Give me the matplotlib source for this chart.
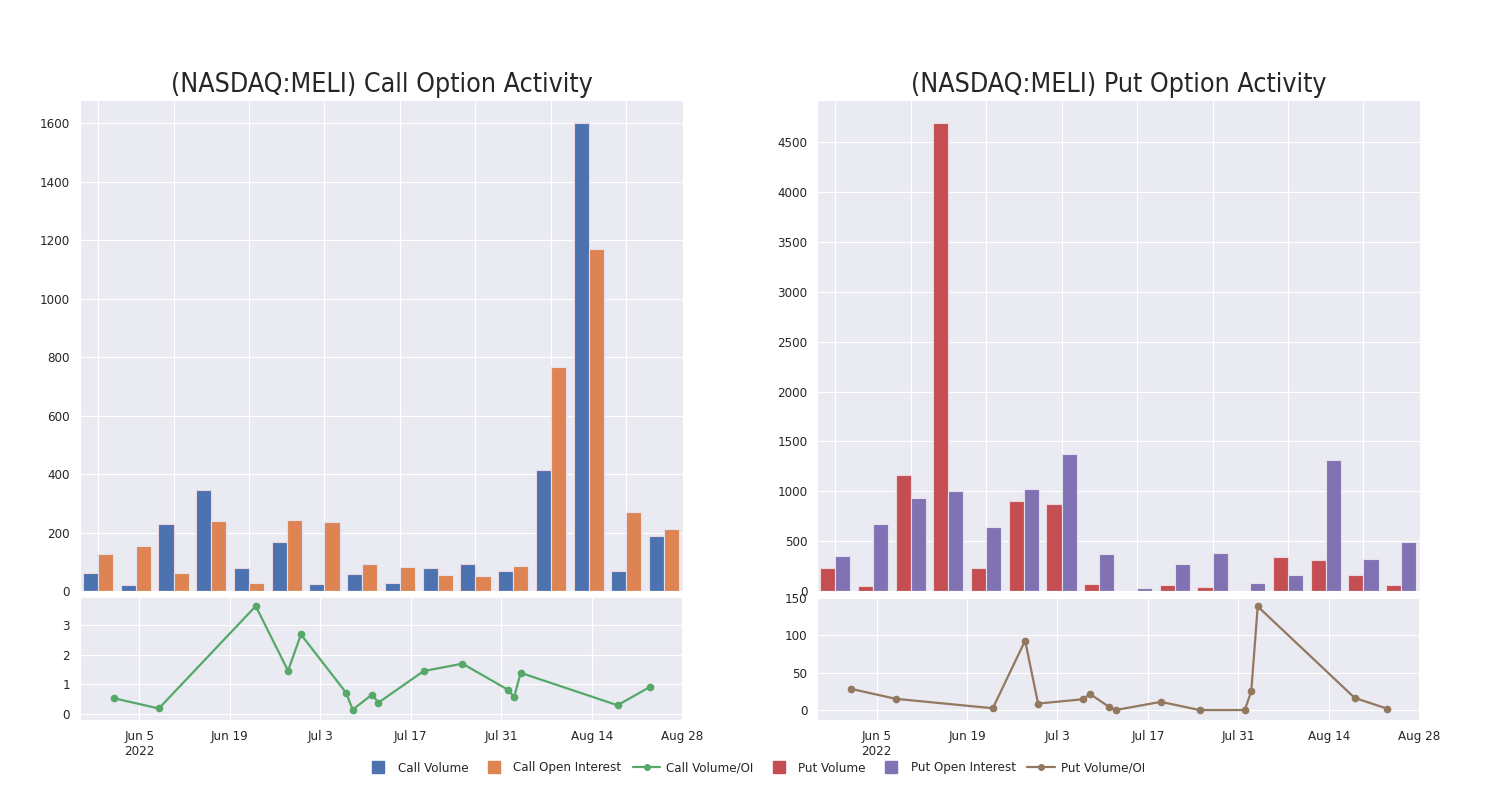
import datetime as dt
import matplotlib
matplotlib.use('Agg')
import matplotlib.pyplot as plt
from matplotlib.lines import Line2D
from matplotlib.ticker import MultipleLocator
import seaborn as sns

sns.set_style('darkgrid')
plt.rcParams['font.family'] = ['DejaVu Sans']
plt.rcParams['font.stretch'] = 'condensed'

# data
dates = [dt.datetime(2022, m, d) for m, d in [
    (6, 1), (6, 8), (6, 23), (6, 28), (6, 30), (7, 7), (7, 8), (7, 11),
    (7, 12), (7, 19), (7, 25), (8, 1), (8, 2), (8, 3), (8, 18), (8, 23)]]

call_volume = [62, 22, 228, 347, 80, 168, 25, 57, 28, 80, 93, 68, 413, 1600, 70, 188]
call_oi = [125, 155, 60, 241, 28, 244, 237, 92, 83, 55, 53, 86, 765, 1170, 270, 211]
call_ratio = [0.52, 0.17, 3.64, 1.45, 2.68, 0.70, 0.13, 0.64, 0.37, 1.44, 1.69, 0.81, 0.56, 1.38, 0.28, 0.90]

put_volume = [235, 54, 1164, 4690, 228, 906, 876, 74, 3, 64, 37, 3, 336, 309, 164, 64]
put_oi = [356, 674, 930, 1007, 638, 1020, 1372, 372, 30, 275, 383, 84, 161, 1309, 319, 490]
put_ratio = [28.6, 15.2, 2.7, 92.9, 8.9, 14.7, 21.9, 4.5, 0.3, 11.2, 0.3, 0.3, 25.4, 138.4, 16.5, 2.2]

tick_dates = [dt.datetime(2022, 6, 5) + dt.timedelta(days=14 * i) for i in range(7)]
tick_labels = ['Jun 5\n2022', 'Jun 19', 'Jul 3', 'Jul 17', 'Jul 31', 'Aug 14', 'Aug 28']

blue, orange, green, red, purple, brown = sns.color_palette('deep')[:6]

fig = plt.figure(figsize=(15, 8), dpi=100)


def panel(left, title, vol, oi, ratio, c1, c2, c3, ylim_line):
    ax = fig.add_axes([left, 0.26125, 0.402, 0.61375])
    x = range(len(vol))
    ax.bar([i - 0.2 for i in x], vol, width=0.4, color=c1, edgecolor='#ecd8dc', linewidth=0.8)
    ax.bar([i + 0.2 for i in x], oi, width=0.4, color=c2, edgecolor='#e4e0ee', linewidth=0.8)
    ax.set_xlim(-0.48, 15.5)
    ax.set_xticks(range(0, 16, 2))
    ax.tick_params(labelbottom=False)
    ax.set_title(title, fontsize=19.2, pad=6, color='#262626')

    ax2 = fig.add_axes([left, 0.1, 0.402, 0.15375])
    ax2.plot(dates, ratio, color=c3, marker='o', markersize=4.5, linewidth=1.6)
    ax2.set_xlim(dt.datetime(2022, 5, 26, 19), dt.datetime(2022, 8, 28, 3))
    ax2.set_ylim(*ylim_line)
    ax2.set_xticks(tick_dates)
    ax2.set_xticklabels(tick_labels)
    for a in (ax, ax2):
        a.tick_params(labelsize=9.5, colors='#262626')
    return ax, ax2


ax_c, ax_c2 = panel(0.0533, '(NASDAQ:MELI) Call Option Activity', call_volume, call_oi,
                    call_ratio, blue, orange, green, (-0.22, 3.95))
ax_c.yaxis.set_major_locator(MultipleLocator(200))
ax_c2.set_yticks([0, 1, 2, 3])
ax_p, ax_p2 = panel(0.5447, '(NASDAQ:MELI) Put Option Activity', put_volume, put_oi,
                    put_ratio, red, purple, brown, (-13, 151))
ax_p.yaxis.set_major_locator(MultipleLocator(500))
ax_p2.set_yticks([0, 50, 100, 150])

handles = [
    Line2D([], [], color=blue, marker='s', linestyle='none', markersize=9),
    Line2D([], [], color=orange, marker='s', linestyle='none', markersize=9),
    Line2D([], [], color=green, marker='o', markersize=4, linewidth=1.6),
    Line2D([], [], color=red, marker='s', linestyle='none', markersize=9),
    Line2D([], [], color=purple, marker='s', linestyle='none', markersize=9),
    Line2D([], [], color=brown, marker='o', markersize=4, linewidth=1.6),
]
labels = ['Call Volume', 'Call Open Interest', 'Call Volume/OI',
          'Put Volume', 'Put Open Interest', 'Put Volume/OI']
fig.legend(handles, labels, loc='center', bbox_to_anchor=(0.503, 0.04), ncol=6,
           frameon=False, fontsize=9.5, handlelength=2.1, handletextpad=0.45,
           columnspacing=0.85)

fig.savefig('out.png', dpi=100, facecolor='white')
